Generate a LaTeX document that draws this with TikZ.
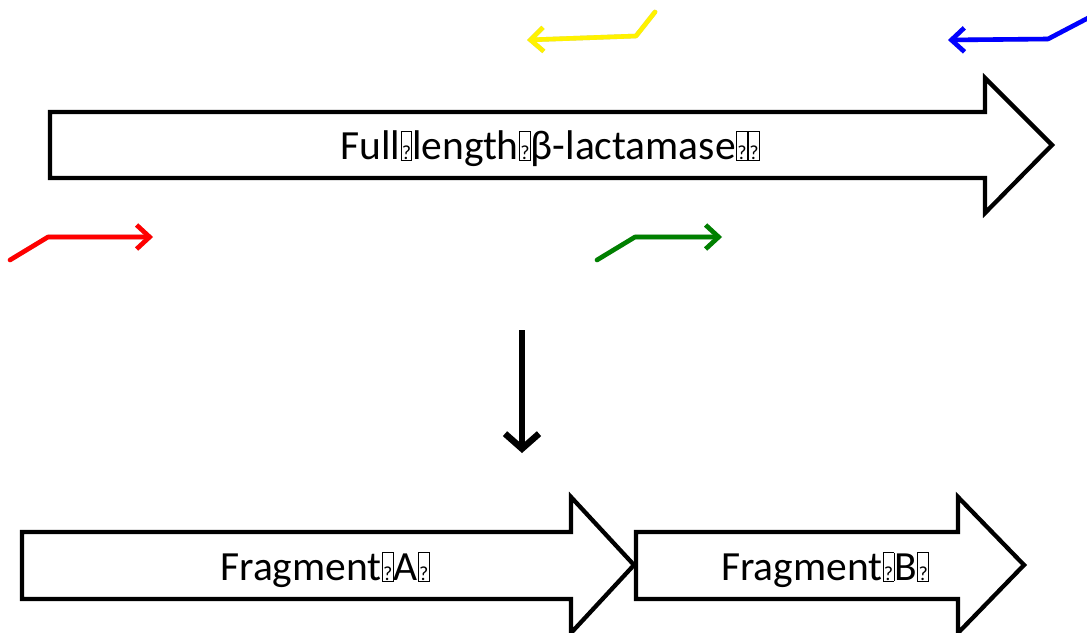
\documentclass[tikz,border=0pt]{standalone}
\usepackage{fontspec}
\setmainfont{Carlito}
\usetikzlibrary{arrows.meta}
% missing-glyph box as printed in the labels
\newcommand\tofu{\kern0.5pt{\fboxsep=0.4pt\fboxrule=0.8pt\fbox{\vphantom{A}\makebox[0.22em]{\fontsize{20}{20}\selectfont ?}}}}
\definecolor{primergreen}{RGB}{0,128,0}
\definecolor{softshadow}{RGB}{170,170,170}
\begin{document}
\begin{tikzpicture}[x=1pt,y=-1pt,
  blockarrow/.style={draw=black, line width=4.3pt, line join=miter, fill=white},
  primer/.style={line width=4.6pt, line cap=round, line join=round,
    -{Straight Barb[length=13pt,width=24pt]}},
  primershadow/.style={primer, draw=softshadow, opacity=0.6, shift={(1.5,2.5)}},
  txt/.style={font=\fontsize{41.5}{50}\selectfont, inner sep=0pt, anchor=base}]
\useasboundingbox (0,0) rectangle (1087,632);

% full-length gene
\draw[blockarrow] (50,112) -- (985,112) -- (985,78) -- (1052,145) -- (985,213)
  -- (985,178) -- (50,178) -- cycle;
\node[txt] (full) at (550,159) {Full\tofu length\tofu β-lactamase\tofu\tofu};

% fragments
\draw[blockarrow] (22,532) -- (571,532) -- (571,497) -- (634,565) -- (571,633)
  -- (571,599) -- (22,599) -- cycle;
\node[txt] (fragA) at (325,580) {Fragment\tofu A\tofu};
\draw[blockarrow] (636,532) -- (958,532) -- (958,497) -- (1024,565) -- (958,633)
  -- (958,599) -- (636,599) -- cycle;
\node[txt] (fragB) at (825,580) {Fragment\tofu B\tofu};

% primers
\coordinate (y1) at (655,12); \coordinate (y2) at (636,36); \coordinate (y3) at (527,40);
\coordinate (b1) at (1090,17); \coordinate (b2) at (1048,39); \coordinate (b3) at (948,40);
\coordinate (r1) at (10,260); \coordinate (r2) at (48,237); \coordinate (r3) at (153,237);
\coordinate (g1) at (597,260); \coordinate (g2) at (635,237); \coordinate (g3) at (722,237);
\foreach \p in {y,b,r,g}
  \draw[primershadow] (\p1) -- (\p2) -- (\p3);
\draw[primer, yellow] (y1) -- (y2) -- (y3);
\draw[primer, blue] (b1) -- (b2) -- (b3);
\draw[primer, red] (r1) -- (r2) -- (r3);
\draw[primer, primergreen] (g1) -- (g2) -- (g3);

% split step
\coordinate (d1) at (522,330); \coordinate (d2) at (522,453);
\draw[line width=6.5pt, -{Straight Barb[length=15pt,width=34pt]}] (d1) -- (d2);
\end{tikzpicture}
\end{document}
